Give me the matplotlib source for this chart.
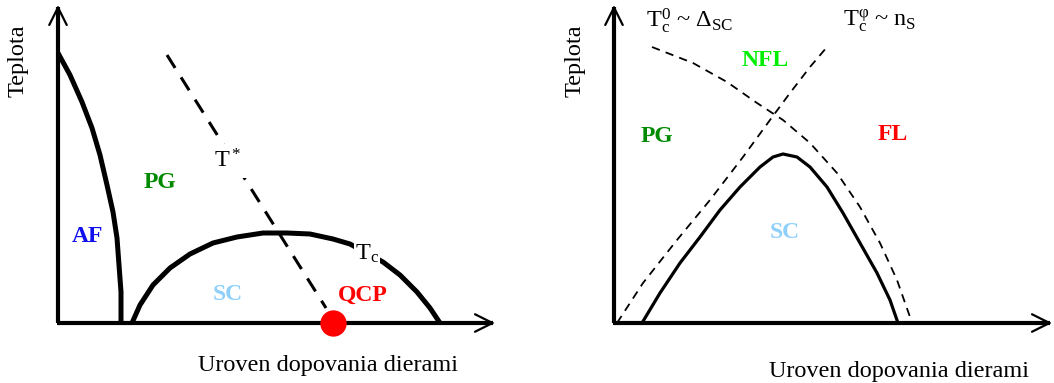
import matplotlib
matplotlib.use('Agg')
import matplotlib.pyplot as plt

plt.rcParams['font.family'] = ['Liberation Serif', 'DejaVu Serif']
plt.rcParams['mathtext.fontset'] = 'custom'
plt.rcParams['mathtext.rm'] = 'Liberation Serif'
plt.rcParams['mathtext.it'] = 'Liberation Serif'
plt.rcParams['lines.scale_dashes'] = False

# ---- left panel (doping x, temperature T), schematic units ----
af_x = [0, 12, 24, 34, 42, 49, 55, 59, 61, 63, 63]
af_T = [270, 248, 221, 195, 168, 138, 111, 85, 58, 31, 0]

sc_left_x = [74, 82, 95, 112, 132, 155, 179, 205, 229, 252, 275, 292, 325, 342, 359, 372, 382]
sc_left_T = [0, 18, 38, 55, 69, 80, 86, 90, 90, 89, 84, 79, 61, 48, 31, 15, 0]

tstar_x = [109, 268]
tstar_T = [268, 15]

qcp_x = [275]
qcp_T = [0]

# ---- right panel ----
sc_right_x = [28, 46, 66, 86, 106, 126, 146, 159, 169, 183, 196, 213, 229, 246, 263, 276, 284]
sc_right_T = [0, 30, 60, 86, 113, 136, 156, 166, 169, 166, 156, 136, 110, 80, 50, 23, 0]

tphi_x = [3, 29, 63, 96, 129, 156, 176, 196, 213]
tphi_T = [0, 40, 83, 123, 166, 203, 230, 256, 276]

t0_x = [38, 79, 113, 143, 169, 196, 223, 246, 266, 283, 296]
t0_T = [276, 260, 241, 220, 203, 180, 150, 116, 80, 43, 6]

GREEN = '#008a00'
BRIGHT = '#00ee00'
BLUE = '#1010ee'
RED = '#ff0000'
LBLUE = '#8fd0fa'

fig = plt.figure(figsize=(10.54, 3.83), dpi=100)
ax1 = fig.add_axes([0, 0, 0.5, 1])
ax2 = fig.add_axes([0.5, 0, 0.5, 1])
ax1.set_xlim(-58, 469)
ax2.set_xlim(-87, 440)
for ax in (ax1, ax2):
    ax.set_ylim(-60, 323)
    ax.axis('off')


def draw_axes(ax, xend, yend):
    ax.plot([0, 0], [0, yend - 2], color='k', lw=3, solid_capstyle='butt', zorder=2)
    ax.plot([-1, xend - 2], [0, 0], color='k', lw=3, solid_capstyle='butt', zorder=2)
    head = dict(arrowstyle='->,head_length=0.7,head_width=0.35', lw=1.6,
                color='k', shrinkA=0, shrinkB=0, mutation_scale=18)
    ax.annotate('', xy=(0, yend), xytext=(0, yend - 20), arrowprops=head)
    ax.annotate('', xy=(xend, 0), xytext=(xend - 20, 0), arrowprops=head)


draw_axes(ax1, 437, 318)
draw_axes(ax2, 438, 318)

# left panel curves
ax1.plot(af_x, af_T, color='k', lw=3.6, solid_capstyle='butt', solid_joinstyle='round', zorder=3)
ax1.plot(sc_left_x, sc_left_T, color='k', lw=3.6, solid_capstyle='butt', solid_joinstyle='round', zorder=3)
ax1.plot(tstar_x, tstar_T, color='k', lw=2.2, dashes=(11, 8), zorder=3)
ax1.scatter(qcp_x, qcp_T, s=360, color=RED, zorder=5, linewidths=0)

bold = dict(fontweight='bold', fontsize=17, ha='center', va='center')
ax1.text(102, 140, 'PG', color=GREEN, **bold)
ax1.text(30, 86, 'AF', color=BLUE, **bold)
ax1.text(170, 28, 'SC', color=LBLUE, **bold)
ax1.text(305, 28, 'QCP', color=RED, **bold)
ax1.text(170, 162, r'T$^*$', fontsize=17.5, ha='center', va='center', zorder=4,
         bbox=dict(facecolor='white', edgecolor='none', pad=4))
ax1.text(309, 69, r'T$_\mathrm{c}$', fontsize=17.5, ha='center', va='center', zorder=4,
         bbox=dict(facecolor='white', edgecolor='none', pad=1))
ax1.text(-40, 262, 'Teplota', fontsize=17.5, rotation=90, ha='center', va='center')
ax1.text(270, -42, 'Uroven dopovania dierami', fontsize=17.5, ha='center', va='center')

# right panel curves
ax2.plot(sc_right_x, sc_right_T, color='k', lw=2.3, solid_capstyle='butt', solid_joinstyle='round', zorder=3)
ax2.plot(tphi_x, tphi_T, color='k', lw=1.3, dashes=(6, 4.5), zorder=3)
ax2.plot(t0_x, t0_T, color='k', lw=1.3, dashes=(6, 4.5), zorder=3)

ax2.text(151, 263, 'NFL', color=BRIGHT, **bold)
ax2.text(43, 186, 'PG', color=GREEN, **bold)
ax2.text(279, 188, 'FL', color=RED, **bold)
ax2.text(171, 91, 'SC', color=LBLUE, **bold)
ax2.text(32, 302, r'T$_\mathrm{c}^\mathrm{0}$ ~ $\Delta_\mathrm{SC}$', fontsize=17.5, ha='left', va='center')
ax2.text(229, 302, r'T$_\mathrm{c}^\mathrm{\varphi}$ ~ n$_\mathrm{S}$', fontsize=17.5, ha='left', va='center')
ax2.text(-39, 262, 'Teplota', fontsize=17.5, rotation=90, ha='center', va='center')
ax2.text(285, -49, 'Uroven dopovania dierami', fontsize=17.5, ha='center', va='center')

fig.savefig('out.png', dpi=100)
